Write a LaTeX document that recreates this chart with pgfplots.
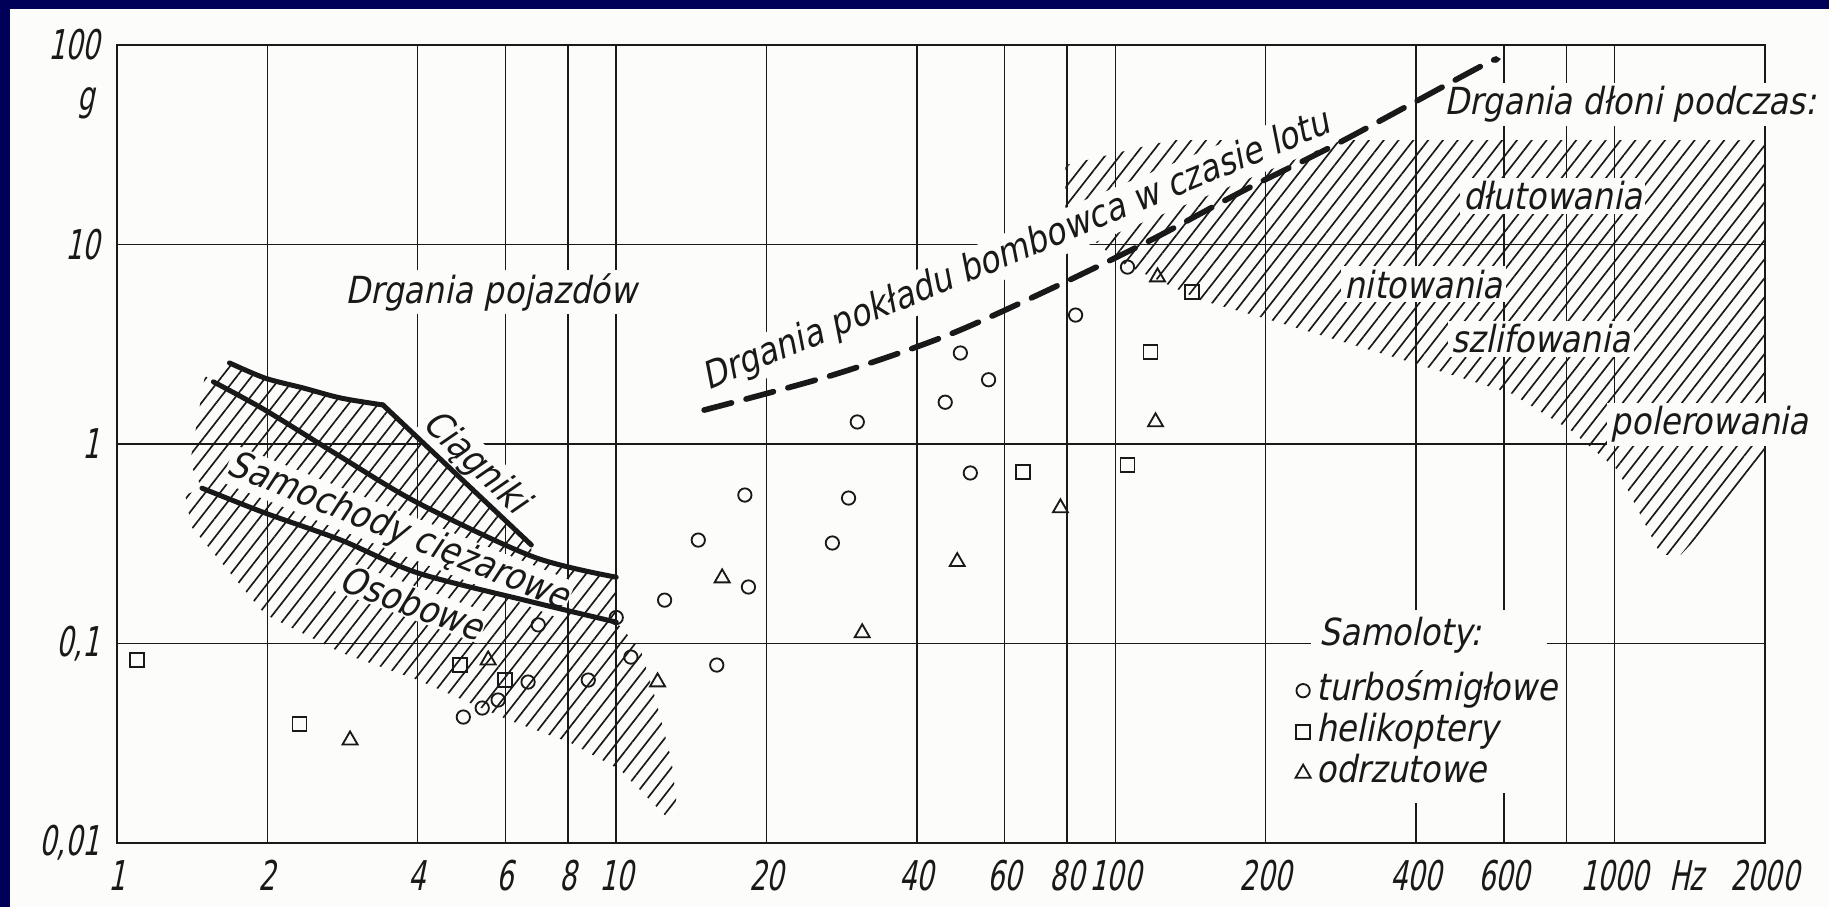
\documentclass[border=0pt]{standalone}
\usepackage{pgfplots}
\pgfplotsset{compat=1.18}
\usetikzlibrary{patterns.meta}
\usepackage{fontspec}
\setmainfont{DejaVu Sans}[FakeStretch=0.87,FakeSlant=0.2]
\newfontfamily\tickfont{DejaVu Sans}[FakeStretch=0.66,FakeSlant=0.2]
\definecolor{navy}{RGB}{0,0,88}
\definecolor{paper}{RGB}{252,252,250}
\definecolor{ink}{RGB}{25,25,25}
\newcommand\tf{\fontsize{11.2}{13}\selectfont}
\pgfplotsset{dotlegend/.style={legend image code/.code={\draw[##1] plot coordinates {(0cm,0cm)};}}}
\begin{document}
\begin{tikzpicture}[lbl/.style={fill=paper, inner sep=1pt, font=\tf, text=ink}]
\begin{scope}[x=0.3pt,y=0.3pt]
\fill[navy] (0,0) rectangle (1829,907);
\fill[paper] (10,0) rectangle (1829,898);
\end{scope}
\begin{axis}[
  at={(35.1pt,19.2pt)}, anchor=south west, scale only axis,
  width=494.4pt, height=239.4pt,
  xmode=log, ymode=log, xmin=1, xmax=2000, ymin=0.01, ymax=100,
  clip=false,
  axis line style={ink, line width=0.8pt},
  xtick={1,2,4,6,8,10,20,40,60,80,100,200,400,600,1000,2000},
  xticklabels={1,2,4,6,8,10,20,40,60,80,100,200,400,600,1000,2000},
  ytick={0.01,0.1,1,10,100},
  yticklabels={{0,01},{0,1},1,10,100},
  extra x ticks={1394}, extra x tick labels={Hz},
  extra x tick style={major tick length=0pt, grid=none},
  major tick length=0pt, xminorticks=false, yminorticks=false,
  tick label style={font=\tickfont\fontsize{12.3}{14}\selectfont, inner sep=0pt, text=ink},
  xticklabel style={yshift=-5pt},
  yticklabel style={xshift=-5pt},
  legend style={at={(0.7148,0.2168)}, anchor=north west, draw=none, fill=none,
    font=\tf, text=ink, inner sep=0pt, column sep=1.1pt, row sep=0.4pt,
    nodes={inner sep=0.6pt, text height=8.2pt, text depth=2.6pt}},
  legend cell align=left,
  gridl/.style={ink, line width=0.45pt, forget plot},
  hatch/.style={draw=none, pattern={Lines[angle=52,distance=3.5pt,line width=0.5pt]}, pattern color=ink, forget plot},
  curve/.style={ink, line width=1.5pt, line cap=round, forget plot},
]
% grid
\addplot[gridl] coordinates {(1,10) (2000,10)};
\addplot[gridl] coordinates {(1,1) (2000,1)};
\addplot[gridl] coordinates {(1,0.1) (246,0.1)};
\addplot[gridl] coordinates {(731,0.1) (2000,0.1)};
\pgfplotsinvokeforeach{2,4,6,8,10,20,40,60,80,100,200,800,1000}{
  \addplot[gridl] coordinates {(#1,0.01) (#1,100)};
}
\addplot[gridl] coordinates {(400,0.147) (400,100)};
\addplot[gridl] coordinates {(400,0.01) (400,0.0158)};
\addplot[gridl] coordinates {(600,0.147) (600,100)};
\addplot[gridl] coordinates {(600,0.01) (600,0.0178)};

% hatched regions
\addplot[hatch] coordinates {(1.68,2.55) (1.98,2.14) (2.36,1.91) (2.81,1.70) (3.41,1.57) (6.76,0.312)
  (6.76,0.275) (4.01,0.506) (2.81,0.861) (1.98,1.48) (1.56,2.05) (1.60,2.40)} -- cycle;
\addplot[hatch] coordinates {(1.50,2.2) (1.56,2.05) (1.98,1.48) (2.81,0.861) (4.01,0.506) (6.82,0.272) (10,0.215)
  (10,0.128) (6.82,0.161) (4.01,0.2255) (2.81,0.330) (1.98,0.451) (1.48,0.601) (1.40,0.80)} -- cycle;
\addplot[hatch] coordinates {(1.48,0.601) (1.98,0.451) (2.81,0.330) (4.01,0.2255) (6.82,0.161) (10,0.128)
  (11.2,0.0927) (12.0,0.0521) (12.9,0.0261) (13.3,0.0138) (12.5,0.0138) (10.2,0.0232) (8.12,0.0317)
  (6.08,0.0414) (4.01,0.0656) (2.81,0.09) (1.98,0.14) (1.41,0.384) (1.37,0.555)} -- cycle;
\addplot[hatch] coordinates {(79.4,14.1) (79.4,25.0) (112.8,30.8) (130,33.4) (2000,33.4) (2000,0.785)
  (1356,0.278) (1237,0.278) (1014,0.741) (817,1.17) (619,1.80) (405,2.5) (204,4.19) (148,5.27) (102,8.17) (83.2,12.5)} -- cycle;

% labels with paper background
\node[lbl, anchor=base] at (axis cs:5.62,5.09) {Drgania pojazdów};
\node[lbl, anchor=base, rotate=22.5] at (axis cs:64.5,8.26) {Drgania pokładu bombowca w czasie lotu};
\node[lbl, rotate=-44, inner sep=0.5pt] at (axis cs:5.22,0.803) {Ciągniki};
\node[lbl, rotate=-22, inner sep=0.5pt] at (axis cs:3.66,0.362) {Samochody ciężarowe};
\node[lbl, rotate=-20, inner sep=0.5pt] at (axis cs:3.90,0.161) {Osobowe};
\node[lbl, anchor=base] at (axis cs:1076,44.6) {Drgania dłoni podczas:};
\node[lbl, anchor=base] at (axis cs:751,14.9) {dłutowania};
\node[lbl, anchor=base] at (axis cs:414,5.39) {nitowania};
\node[lbl, anchor=base] at (axis cs:711,2.86) {szlifowania};
\node[lbl, anchor=base] at (axis cs:1549,1.11) {polerowania};
\node[lbl, anchor=base] at (axis cs:372,0.098) {Samoloty:};
\node[anchor=base, font=\tickfont\fontsize{12.3}{14}\selectfont, text=ink, inner sep=0pt] at (axis cs:0.867,47.2) {g};

% curves
\addplot[curve, smooth, tension=0.5] coordinates {(1.68,2.55) (1.98,2.14) (2.36,1.91) (2.81,1.70) (3.41,1.57)};
\addplot[curve] coordinates {(3.41,1.57) (6.76,0.312)};
\addplot[curve, smooth, tension=0.5] coordinates {(1.56,2.05) (1.98,1.48) (2.81,0.861) (4.01,0.506) (6.82,0.272) (10,0.215)};
\addplot[curve, smooth, tension=0.5] coordinates {(1.48,0.601) (1.98,0.451) (2.81,0.330) (4.01,0.2255) (6.82,0.161) (10,0.128)};
\addplot[curve, line width=1.7pt, smooth, tension=0.5, dash pattern=on 8.5pt off 4.5pt] coordinates {(15.0,1.48) (27.2,2.22) (46.1,3.51) (75.5,6.12) (117.5,10.5) (181,18.7) (280,32.3) (536,77.6) (578,84.1)};

% aircraft measurements
\addplot[only marks, mark=o, mark size=2pt, ink, line width=0.55pt, dotlegend] coordinates {
  (4.94,0.0428) (5.39,0.0475) (5.80,0.0521) (6.66,0.0641) (6.98,0.124) (8.79,0.0656) (10.0,0.135)
  (10.7,0.0855) (12.5,0.165) (14.6,0.330) (15.9,0.078) (18.1,0.555) (18.4,0.192) (27.1,0.319)
  (29.2,0.536) (30.4,1.29) (45.6,1.62) (48.9,2.86) (51.2,0.716) (55.7,2.10) (83.2,4.43) (105.7,7.71)};
\addlegendentry{turbośmigłowe}
\addplot[only marks, mark=square, mark size=2.1pt, ink, line width=0.55pt, dotlegend] coordinates {
  (1.097,0.0826) (2.32,0.0395) (4.87,0.078) (5.99,0.0656) (65.4,0.724) (105.7,0.785) (117.5,2.89) (142.6,5.78)};
\addlegendentry{helikoptery}
\addplot[only marks, mark=triangle, mark size=2.6pt, ink, line width=0.55pt, dotlegend] coordinates {
  (2.93,0.0328) (5.54,0.0826) (12.1,0.0641) (16.3,0.213) (31.1,0.113) (48.2,0.257) (77.6,0.478) (120.3,1.29) (121.4,6.87)};
\addlegendentry{odrzutowe}
\end{axis}
\end{tikzpicture}
\end{document}
